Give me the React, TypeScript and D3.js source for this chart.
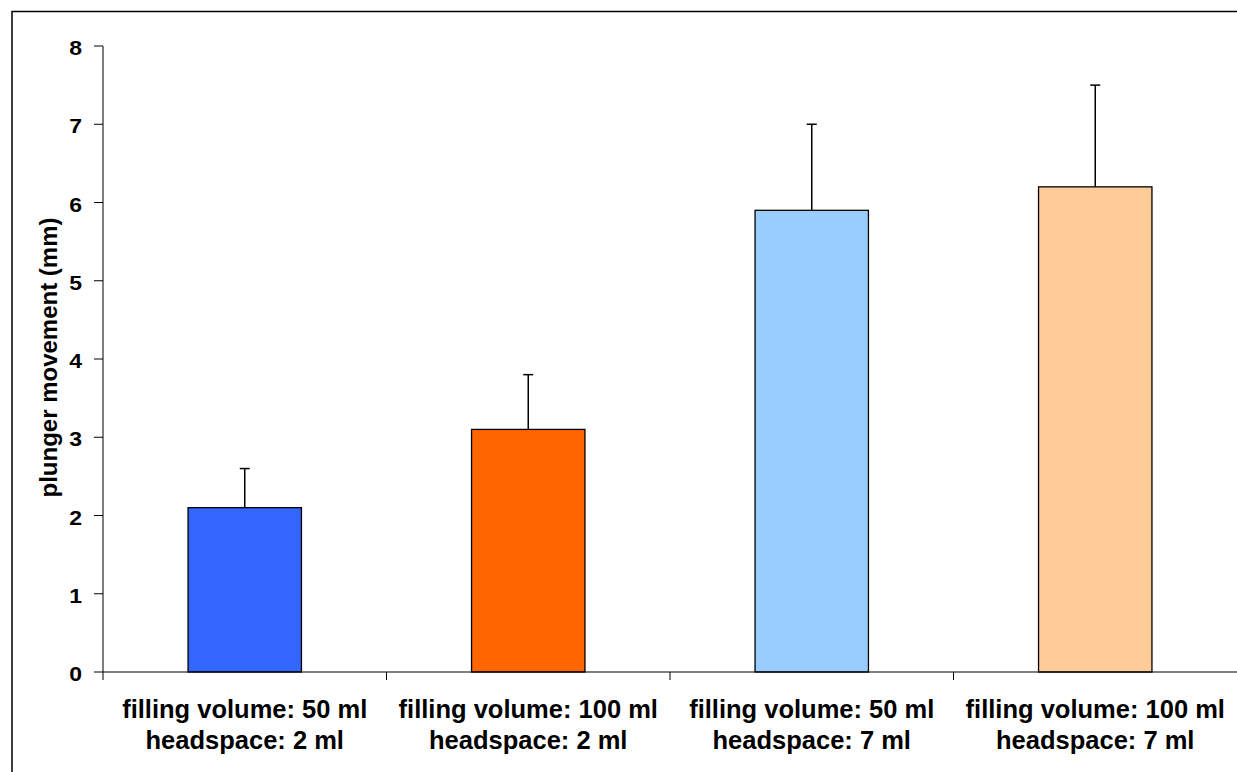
import React from "react";
import * as d3 from "d3";

const categories = ["c1", "c2", "c3", "c4"];
const labelLine1 = ["filling volume: 50 ml", "filling volume: 100 ml", "filling volume: 50 ml", "filling volume: 100 ml"];
const labelLine2 = ["headspace: 2 ml", "headspace: 2 ml", "headspace: 7 ml", "headspace: 7 ml"];
const means = [2.1, 3.1, 5.9, 6.2];
const errTops = [2.6, 3.8, 7.0, 7.5];
const colors = ["#3366FF", "#FF6600", "#99CCFF", "#FFCC99"];
const yTicks = [0, 1, 2, 3, 4, 5, 6, 7, 8];

const W = 1237, H = 772;
const left = 103, right = 1237, top = 46, bottom = 672;
const font = "'Liberation Sans', Arial, sans-serif";

export default function App() {
  const x = d3.scaleBand().domain(categories).range([left, right]).paddingInner(0).paddingOuter(0);
  const y = d3.scaleLinear().domain([0, 8]).range([bottom, top]);
  const bw = x.bandwidth() * 0.4;
  const capHalf = 5;
  return (
    <svg width={W} height={H} style={{ position: "fixed", left: 0, top: 0, background: "#fff" }} fontFamily={font}>
      <rect x={0} y={0} width={W} height={H} fill="#fff" />
      <rect x={12} y={11.5} width={W + 20} height={H + 20} fill="none" stroke="#000" strokeWidth={1.5} />
      {categories.map((c, i) => {
        const cx = x(c)! + x.bandwidth() / 2;
        return (
          <g key={c}>
            <line x1={cx} x2={cx} y1={y(means[i])} y2={y(errTops[i])} stroke="#000" strokeWidth={1.5} />
            <line x1={cx - capHalf} x2={cx + capHalf} y1={y(errTops[i])} y2={y(errTops[i])} stroke="#000" strokeWidth={1.5} />
            <rect x={cx - bw / 2} y={y(means[i])} width={bw} height={y(0) - y(means[i])} fill={colors[i]} stroke="#000" strokeWidth={1.3} />
          </g>
        );
      })}
      <line x1={left} x2={left} y1={top} y2={bottom} stroke="#000" strokeWidth={1} />
      {yTicks.map((t) => (
        <g key={t}>
          <line x1={left - 9} x2={left} y1={y(t)} y2={y(t)} stroke="#000" strokeWidth={1} />
          <text transform={`translate(82, ${y(t) + 9}) scale(1.15, 1)`} textAnchor="end" fontSize={20} fontWeight="bold">{t}</text>
        </g>
      ))}
      <line x1={left} x2={right} y1={bottom} y2={bottom} stroke="#000" strokeWidth={1.2} />
      {categories.map((c) => (
        <line key={"t" + c} x1={x(c)!} x2={x(c)!} y1={bottom} y2={bottom + 8} stroke="#000" strokeWidth={1} />
      ))}
      {categories.map((c, i) => {
        const cx = x(c)! + x.bandwidth() / 2;
        return (
          <text key={"l" + c} x={cx} textAnchor="middle" fontSize={25.5} fontWeight="bold">
            <tspan x={cx} y={718}>{labelLine1[i]}</tspan>
            <tspan x={cx} y={749}>{labelLine2[i]}</tspan>
          </text>
        );
      })}
      <text transform={`translate(57, 357.5) rotate(-90)`} textAnchor="middle" fontSize={24} fontWeight="bold">
        plunger movement (mm)
      </text>
    </svg>
  );
}
